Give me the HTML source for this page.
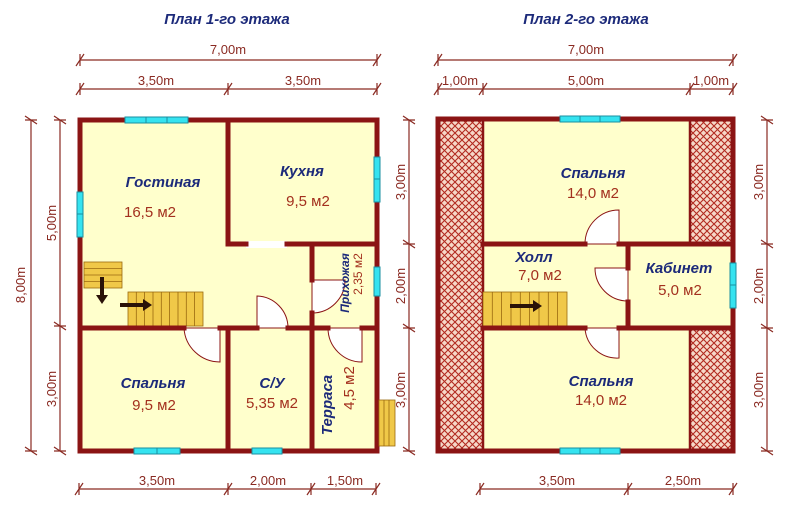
<!DOCTYPE html>
<html><head><meta charset="utf-8"><style>
html,body{margin:0;padding:0;background:#fff}
svg{display:block}
text{font-family:"Liberation Sans",sans-serif}
.t{fill:#1c2a7a;font-weight:bold;font-style:italic;font-size:15px}
.a{fill:#a3301e;font-size:15px}
.d{fill:#8a2a22;font-size:13px}
.dl{stroke:#8a2a22;stroke-width:1.2;fill:none}
.w{stroke:#8b1414;stroke-width:5;fill:none;stroke-linecap:square}
.win{fill:#35e3f0;stroke:#1a8fa0;stroke-width:1}
.st{fill:#f0c848;stroke:#9a6a10;stroke-width:0.8}
.door{fill:#fff;stroke:#8b1414;stroke-width:1}
</style></head><body>
<svg width="800" height="520" viewBox="0 0 800 520" xmlns="http://www.w3.org/2000/svg">
<defs>
<pattern id="h" width="7" height="7" patternUnits="userSpaceOnUse">
<rect width="7" height="7" fill="#f6d8c8"/>
<path d="M0,0L7,7M7,0L0,7" stroke="#b22a20" stroke-width="1.1"/>
</pattern>
<g id="tk"><path d="M-4,6L4,-6M0,-6V6" stroke="#8a2a22" stroke-width="1.2"/></g>
</defs>

<text x="227" y="24" text-anchor="middle" class="t">План 1-го этажа</text>
<text x="586" y="24" text-anchor="middle" class="t">План 2-го этажа</text>

<!-- ===== PLAN 1 ===== -->
<rect x="80" y="120" width="297" height="331" fill="#ffffcc"/>
<rect x="84" y="262" width="38" height="26" class="st"/>
<path d="M84,268.5H122M84,275H122M84,281.5H122" stroke="#9a6a10" stroke-width="0.8"/>
<rect x="128" y="292" width="75" height="34" class="st"/>
<path d="M136.3,292V326M144.6,292V326M153,292V326M161.3,292V326M169.6,292V326M178,292V326M186.3,292V326M194.6,292V326" stroke="#9a6a10" stroke-width="0.8"/>
<path d="M102,277V297" stroke="#2a1208" stroke-width="4"/><path d="M96,295L102,304L108,295Z" fill="#2a1208"/>
<path d="M120,305H144" stroke="#2a1208" stroke-width="4"/><path d="M143,299L152,305L143,311Z" fill="#2a1208"/>
<path d="M220,328V362A36,36 0 0 1 184,328Z" class="door"/>
<path d="M257,328V296A32,32 0 0 1 288,328Z" class="door"/>
<path d="M312,280V313A33,33 0 0 0 345,280Z" class="door"/>
<path d="M362,328V362A34,34 0 0 1 328,328Z" class="door"/>
<rect x="246" y="241" width="41" height="7" fill="#fff"/>
<rect x="80" y="120" width="297" height="331" class="w"/>
<path class="w" d="M228,120V244H246M287,244H377"/>
<path class="w" d="M312,244V280M312,313V451"/>
<path class="w" d="M80,328H184M220,328H257M288,328H328M362,328H377"/>
<path class="w" d="M228,328V451"/>
<rect x="125" y="117" width="63" height="6" class="win"/><path d="M146,117v6M167,117v6" stroke="#1a8fa0"/>
<rect x="77" y="192" width="6" height="45" class="win"/><path d="M77,214h6" stroke="#1a8fa0"/>
<rect x="374" y="157" width="6" height="45" class="win"/><path d="M374,179h6" stroke="#1a8fa0"/>
<rect x="374" y="267" width="6" height="29" class="win"/>
<rect x="134" y="448" width="46" height="6" class="win"/><path d="M157,448v6" stroke="#1a8fa0"/>
<rect x="252" y="448" width="30" height="6" class="win"/>
<rect x="379" y="400" width="16" height="46" class="st"/>
<path d="M384,400V446M389,400V446" stroke="#9a6a10" stroke-width="0.8"/>
<text x="163" y="187" text-anchor="middle" class="t">Гостиная</text>
<text x="150" y="217" text-anchor="middle" class="a">16,5 м2</text>
<text x="302" y="176" text-anchor="middle" class="t">Кухня</text>
<text x="308" y="206" text-anchor="middle" class="a">9,5 м2</text>
<text x="153" y="388" text-anchor="middle" class="t">Спальня</text>
<text x="154" y="410" text-anchor="middle" class="a">9,5 м2</text>
<text x="272" y="388" text-anchor="middle" class="t">С/У</text>
<text x="272" y="408" text-anchor="middle" class="a">5,35 м2</text>
<text transform="translate(349,283) rotate(-90)" text-anchor="middle" class="t" style="font-size:12px">Прихожая</text>
<text transform="translate(362,274) rotate(-90)" text-anchor="middle" class="a" style="font-size:12px">2,35 м2</text>
<text transform="translate(332,405) rotate(-90)" text-anchor="middle" class="t">Терраса</text>
<text transform="translate(354,388) rotate(-90)" text-anchor="middle" class="a">4,5 м2</text>

<text x="228" y="54" text-anchor="middle" class="d">7,00m</text>
<path class="dl" d="M80,60H377"/><use href="#tk" x="80" y="60"/><use href="#tk" x="377" y="60"/>
<text x="156" y="85" text-anchor="middle" class="d">3,50m</text>
<text x="303" y="85" text-anchor="middle" class="d">3,50m</text>
<path class="dl" d="M80,89H377"/><use href="#tk" x="80" y="89"/><use href="#tk" x="228" y="89"/><use href="#tk" x="377" y="89"/>
<text x="157" y="485" text-anchor="middle" class="d">3,50m</text>
<text x="268" y="485" text-anchor="middle" class="d">2,00m</text>
<text x="345" y="485" text-anchor="middle" class="d">1,50m</text>
<path class="dl" d="M79,489H376"/><use href="#tk" x="79" y="489"/><use href="#tk" x="228" y="489"/><use href="#tk" x="311" y="489"/><use href="#tk" x="376" y="489"/>
<path class="dl" d="M31,120V451"/><use href="#tk" x="31" y="120" transform="rotate(90 31 120)"/><use href="#tk" x="31" y="451" transform="rotate(90 31 451)"/>
<text transform="translate(25,285) rotate(-90)" text-anchor="middle" class="d">8,00m</text>
<path class="dl" d="M60,120V451"/><use href="#tk" x="60" y="120" transform="rotate(90 60 120)"/><use href="#tk" x="60" y="326" transform="rotate(90 60 326)"/><use href="#tk" x="60" y="451" transform="rotate(90 60 451)"/>
<text transform="translate(56,223) rotate(-90)" text-anchor="middle" class="d">5,00m</text>
<text transform="translate(56,389) rotate(-90)" text-anchor="middle" class="d">3,00m</text>
<path class="dl" d="M409,120V451"/><use href="#tk" x="409" y="120" transform="rotate(90 409 120)"/><use href="#tk" x="409" y="244" transform="rotate(90 409 244)"/><use href="#tk" x="409" y="328" transform="rotate(90 409 328)"/><use href="#tk" x="409" y="451" transform="rotate(90 409 451)"/>
<text transform="translate(405,182) rotate(-90)" text-anchor="middle" class="d">3,00m</text>
<text transform="translate(405,286) rotate(-90)" text-anchor="middle" class="d">2,00m</text>
<text transform="translate(405,390) rotate(-90)" text-anchor="middle" class="d">3,00m</text>

<!-- ===== PLAN 2 ===== -->
<rect x="438" y="119" width="295" height="332" fill="#ffffcc"/>
<rect x="438" y="119" width="45" height="332" fill="url(#h)"/>
<rect x="690" y="119" width="43" height="125" fill="url(#h)"/>
<rect x="690" y="328" width="43" height="123" fill="url(#h)"/>
<path class="w" style="stroke-width:2.5" d="M483,119V451M690,119V244M690,328V451"/>
<rect x="483" y="292" width="84" height="34" class="st"/>
<path d="M492.3,292V326M501.6,292V326M511,292V326M520.3,292V326M529.6,292V326M539,292V326M548.3,292V326M557.6,292V326" stroke="#9a6a10" stroke-width="0.8"/>
<path d="M510,306H534" stroke="#2a1208" stroke-width="4"/><path d="M533,300L542,306L533,312Z" fill="#2a1208"/>
<path d="M619,244V210A34,34 0 0 0 585,244Z" class="door"/>
<path d="M619,328V358A32,32 0 0 1 585,328Z" class="door"/>
<path d="M628,268V301A33,33 0 0 1 595,268Z" class="door"/>
<rect x="438" y="119" width="295" height="332" class="w"/>
<path class="w" d="M483,244H585M619,244H733M483,328H585M619,328H733M628,244V268M628,302V328"/>
<rect x="560" y="116" width="60" height="6" class="win"/><path d="M580,116v6M600,116v6" stroke="#1a8fa0"/>
<rect x="560" y="448" width="60" height="6" class="win"/><path d="M580,448v6M600,448v6" stroke="#1a8fa0"/>
<rect x="730" y="263" width="6" height="45" class="win"/><path d="M730,285h6" stroke="#1a8fa0"/>
<text x="593" y="178" text-anchor="middle" class="t">Спальня</text>
<text x="593" y="198" text-anchor="middle" class="a">14,0 м2</text>
<text x="534" y="262" text-anchor="middle" class="t">Холл</text>
<text x="540" y="280" text-anchor="middle" class="a">7,0 м2</text>
<text x="679" y="273" text-anchor="middle" class="t">Кабинет</text>
<text x="680" y="295" text-anchor="middle" class="a">5,0 м2</text>
<text x="601" y="386" text-anchor="middle" class="t">Спальня</text>
<text x="601" y="405" text-anchor="middle" class="a">14,0 м2</text>

<text x="586" y="54" text-anchor="middle" class="d">7,00m</text>
<path class="dl" d="M438,60H733"/><use href="#tk" x="438" y="60"/><use href="#tk" x="733" y="60"/>
<text x="460" y="85" text-anchor="middle" class="d">1,00m</text>
<text x="586" y="85" text-anchor="middle" class="d">5,00m</text>
<text x="711" y="85" text-anchor="middle" class="d">1,00m</text>
<path class="dl" d="M438,89H733"/><use href="#tk" x="438" y="89"/><use href="#tk" x="483" y="89"/><use href="#tk" x="690" y="89"/><use href="#tk" x="733" y="89"/>
<text x="557" y="485" text-anchor="middle" class="d">3,50m</text>
<text x="683" y="485" text-anchor="middle" class="d">2,50m</text>
<path class="dl" d="M480,489H733"/><use href="#tk" x="480" y="489"/><use href="#tk" x="628" y="489"/><use href="#tk" x="733" y="489"/>
<path class="dl" d="M767,120V451"/><use href="#tk" x="767" y="120" transform="rotate(90 767 120)"/><use href="#tk" x="767" y="244" transform="rotate(90 767 244)"/><use href="#tk" x="767" y="328" transform="rotate(90 767 328)"/><use href="#tk" x="767" y="451" transform="rotate(90 767 451)"/>
<text transform="translate(763,182) rotate(-90)" text-anchor="middle" class="d">3,00m</text>
<text transform="translate(763,286) rotate(-90)" text-anchor="middle" class="d">2,00m</text>
<text transform="translate(763,390) rotate(-90)" text-anchor="middle" class="d">3,00m</text>
</svg>
</body></html>
